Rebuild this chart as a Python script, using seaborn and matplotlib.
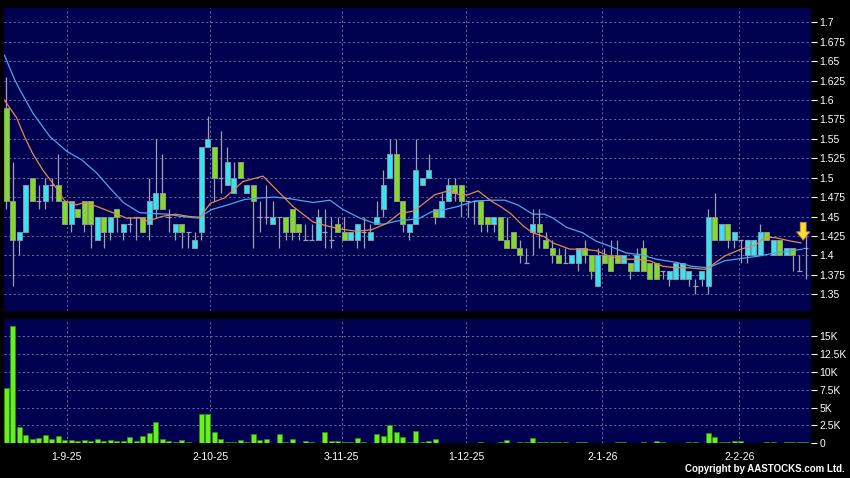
import numpy as np
import pandas as pd
import matplotlib
matplotlib.use("Agg")
import matplotlib.pyplot as plt
import seaborn as sns

# daily candles, 19-8-25 .. mid-Feb-26
opens = [1.59, 1.47, 1.42, 1.43, 1.50, 1.47, 1.47, 1.49, 1.49, 1.47,
         1.44, 1.46, 1.47, 1.47, 1.42, 1.45, 1.43, 1.46, 1.43, 1.44,
         1.45, 1.45, 1.44, 1.46, 1.48, 1.45, 1.43, 1.44, 1.43, 1.41,
         1.43, 1.54, 1.54, 1.50, 1.49, 1.48, 1.52, 1.48, 1.49, 1.45,
         1.45, 1.44, 1.45, 1.45, 1.46, 1.44, 1.42, 1.42, 1.42, 1.43,
         1.42, 1.44, 1.43, 1.42, 1.42, 1.43, 1.42, 1.44, 1.46, 1.50,
         1.53, 1.47, 1.43, 1.44, 1.49, 1.50, 1.46, 1.45, 1.47, 1.49,
         1.49, 1.47, 1.47, 1.47, 1.45, 1.44, 1.45, 1.42, 1.43, 1.41,
         1.39, 1.43, 1.44, 1.42, 1.41, 1.40, 1.39, 1.39, 1.39, 1.41,
         1.40, 1.36, 1.40, 1.40, 1.40, 1.39, 1.39, 1.38, 1.41, 1.39,
         1.39, 1.38, 1.37, 1.37, 1.37, 1.37, 1.36, 1.37, 1.36, 1.45,
         1.42, 1.44, 1.42, 1.42, 1.40, 1.40, 1.40, 1.43, 1.40, 1.42,
         1.40, 1.41, 1.38, 1.41]
highs = [1.63, 1.52, 1.43, 1.49, 1.50, 1.49, 1.50, 1.50, 1.53, 1.47,
         1.47, 1.46, 1.47, 1.47, 1.45, 1.45, 1.45, 1.46, 1.44, 1.45,
         1.45, 1.45, 1.50, 1.55, 1.53, 1.46, 1.44, 1.44, 1.43, 1.43,
         1.54, 1.58, 1.54, 1.56, 1.54, 1.52, 1.52, 1.49, 1.49, 1.47,
         1.49, 1.47, 1.45, 1.45, 1.46, 1.44, 1.44, 1.44, 1.46, 1.46,
         1.45, 1.45, 1.45, 1.43, 1.44, 1.45, 1.44, 1.47, 1.51, 1.55,
         1.55, 1.47, 1.44, 1.55, 1.50, 1.53, 1.46, 1.48, 1.50, 1.50,
         1.49, 1.47, 1.47, 1.47, 1.45, 1.45, 1.45, 1.45, 1.43, 1.42,
         1.41, 1.46, 1.46, 1.43, 1.42, 1.41, 1.41, 1.40, 1.41, 1.42,
         1.40, 1.41, 1.41, 1.42, 1.42, 1.40, 1.39, 1.41, 1.42, 1.39,
         1.39, 1.38, 1.38, 1.39, 1.39, 1.38, 1.37, 1.38, 1.46, 1.48,
         1.44, 1.44, 1.43, 1.42, 1.42, 1.42, 1.44, 1.43, 1.42, 1.42,
         1.41, 1.41, 1.40, 1.425]
lows = [1.46, 1.36, 1.40, 1.43, 1.47, 1.46, 1.46, 1.47, 1.47, 1.44,
        1.43, 1.45, 1.43, 1.41, 1.42, 1.41, 1.42, 1.43, 1.42, 1.43,
        1.42, 1.43, 1.42, 1.45, 1.46, 1.43, 1.42, 1.41, 1.41, 1.41,
        1.42, 1.54, 1.47, 1.48, 1.49, 1.48, 1.50, 1.48, 1.41, 1.43,
        1.44, 1.44, 1.41, 1.42, 1.42, 1.42, 1.42, 1.42, 1.42, 1.41,
        1.41, 1.43, 1.42, 1.42, 1.41, 1.41, 1.42, 1.44, 1.45, 1.50,
        1.47, 1.43, 1.42, 1.44, 1.49, 1.50, 1.44, 1.45, 1.47, 1.47,
        1.45, 1.45, 1.44, 1.43, 1.43, 1.43, 1.42, 1.41, 1.41, 1.39,
        1.39, 1.40, 1.41, 1.41, 1.39, 1.39, 1.39, 1.39, 1.38, 1.39,
        1.37, 1.36, 1.39, 1.38, 1.39, 1.39, 1.37, 1.38, 1.38, 1.37,
        1.37, 1.37, 1.36, 1.37, 1.37, 1.36, 1.35, 1.36, 1.35, 1.42,
        1.42, 1.41, 1.41, 1.39, 1.39, 1.40, 1.40, 1.42, 1.40, 1.40,
        1.40, 1.38, 1.38, 1.37]
closes = [1.47, 1.42, 1.43, 1.49, 1.47, 1.47, 1.49, 1.49, 1.47, 1.44,
          1.47, 1.45, 1.44, 1.44, 1.45, 1.43, 1.45, 1.45, 1.44, 1.44,
          1.45, 1.43, 1.47, 1.48, 1.46, 1.45, 1.44, 1.43, 1.43, 1.42,
          1.54, 1.55, 1.50, 1.50, 1.52, 1.50, 1.50, 1.49, 1.47, 1.45,
          1.45, 1.45, 1.45, 1.43, 1.43, 1.43, 1.42, 1.42, 1.45, 1.43,
          1.42, 1.43, 1.42, 1.43, 1.44, 1.43, 1.43, 1.45, 1.49, 1.53,
          1.47, 1.44, 1.44, 1.51, 1.50, 1.51, 1.45, 1.47, 1.49, 1.48,
          1.47, 1.47, 1.47, 1.44, 1.44, 1.45, 1.42, 1.41, 1.41, 1.40,
          1.39, 1.44, 1.43, 1.41, 1.40, 1.39, 1.39, 1.40, 1.41, 1.40,
          1.38, 1.40, 1.39, 1.38, 1.39, 1.40, 1.38, 1.40, 1.38, 1.37,
          1.37, 1.38, 1.38, 1.39, 1.39, 1.38, 1.36, 1.38, 1.45, 1.42,
          1.44, 1.42, 1.43, 1.42, 1.42, 1.42, 1.43, 1.42, 1.42, 1.40,
          1.41, 1.40, 1.38, 1.41]
volumes = [7800, 16400, 2330, 1160, 650, 750, 1120, 560, 1020, 510,
           470, 280, 470, 330, 560, 370, 470, 280, 330, 840,
           280, 1020, 1400, 2980, 600, 330, 140, 470, 190, 90,
           4140, 4050, 1580, 650, 230, 190, 470, 190, 1300, 470,
           560, 50, 1300, 190, 600, 50, 330, 140, 90, 1580,
           280, 330, 140, 190, 750, 140, 50, 1260, 980, 2560,
           1580, 880, 190, 1720, 190, 330, 620, 80, 60, 80,
           60, 50, 60, 150, 100, 60, 190, 430, 60, 240,
           240, 770, 120, 150, 240, 190, 190, 60, 150, 190,
           50, 60, 100, 50, 240, 190, 50, 60, 190, 50,
           290, 240, 50, 100, 50, 190, 150, 60, 1440, 820,
           240, 240, 380, 380, 100, 100, 50, 240, 150, 60,
           150, 190, 150, 190]

# moving averages (x = candle index)
ma_fast_x = [-0.3, 1.6, 2.8, 4.0, 5.6, 7.5, 9.0, 10.8, 12.0, 13.9, 17.0, 18.5, 20.5,
             21.8, 23.9, 26.0, 28.2, 29.8, 31.4, 33.6, 36.4, 39.5, 41.5, 44.1, 47.2,
             49.3, 51.3, 53.9, 56.2, 58.5, 60.5, 62.7, 64.4, 65.9, 68.0, 69.8, 71.0,
             72.6, 74.6, 76.2, 77.7, 79.5, 81.0, 82.8, 84.1, 86.7, 88.7, 90.8, 92.8,
             94.9, 97.0, 99.0, 101.0, 103.1, 105.0, 107.5, 108.5, 110.5, 113.0, 115.2,
             116.7, 118.2, 120.3, 122.3]
ma_fast = [1.600, 1.577, 1.553, 1.532, 1.510, 1.489, 1.470, 1.465, 1.468, 1.463, 1.453,
           1.448, 1.448, 1.444, 1.450, 1.453, 1.450, 1.449, 1.467, 1.474, 1.495, 1.502,
           1.485, 1.463, 1.443, 1.438, 1.434, 1.431, 1.433, 1.441, 1.454, 1.457, 1.468,
           1.478, 1.483, 1.478, 1.478, 1.483, 1.470, 1.462, 1.453, 1.438, 1.429, 1.424,
           1.416, 1.408, 1.408, 1.406, 1.399, 1.395, 1.395, 1.393, 1.386, 1.384, 1.384,
           1.382, 1.387, 1.399, 1.408, 1.413, 1.423, 1.423, 1.419, 1.416]
ma_slow_x = [-0.3, 1.3, 2.1, 4.1, 6.7, 9.3, 11.6, 13.9, 15.9, 18.0, 20.5, 22.3, 24.9,
             26.9, 29.5, 31.6, 34.1, 36.7, 39.3, 41.3, 43.6, 47.2, 49.8, 51.8, 54.4,
             56.4, 58.0, 60.0, 62.1, 63.4, 65.4, 67.5, 69.5, 72.1, 74.6, 76.7, 78.7,
             81.0, 82.8, 84.1, 86.2, 88.7, 90.8, 92.8, 95.4, 97.5, 100.0, 103.1, 105.4,
             108.0, 110.5, 113.1, 115.7, 118.2, 120.8, 122.5]
ma_slow = [1.658, 1.626, 1.613, 1.583, 1.553, 1.534, 1.523, 1.506, 1.487, 1.468, 1.455,
           1.454, 1.453, 1.450, 1.448, 1.459, 1.465, 1.472, 1.474, 1.475, 1.473, 1.468,
           1.471, 1.459, 1.448, 1.442, 1.440, 1.444, 1.446, 1.447, 1.456, 1.459, 1.463,
           1.470, 1.471, 1.471, 1.465, 1.453, 1.453, 1.448, 1.436, 1.429, 1.418, 1.412,
           1.403, 1.401, 1.395, 1.391, 1.386, 1.384, 1.393, 1.396, 1.399, 1.403, 1.406,
           1.408]

date_pos = [9.3, 31.4, 51.6, 70.7, 91.7, 112.8]
date_labels = ["1-9-25", "2-10-25", "3-11-25", "1-12-25", "2-1-26", "2-2-26"]
price_ticks = [1.35, 1.375, 1.4, 1.425, 1.45, 1.475, 1.5, 1.525, 1.55, 1.575,
               1.6, 1.625, 1.65, 1.675, 1.7]
vol_ticks = [0, 2500, 5000, 7500, 10000, 12500, 15000]
vol_labels = ["0", "2.5K", "5K", "7.5K", "10K", "12.5K", "15K"]

df = pd.DataFrame({"open": opens, "high": highs, "low": lows,
                   "close": closes, "vol": volumes})
df["idx"] = np.arange(len(df))

sns.set_style("dark")
plt.rcParams["font.family"] = ["Liberation Sans", "DejaVu Sans"]

NAVY = "#000050"
GRID = "#7c7ca4"
CYAN = "#38e2f0"
LIME = "#80dc26"
WICK = "#a0a0ac"

fig = plt.figure(figsize=(8.5, 4.78), dpi=100, facecolor="black")
ax = fig.add_axes([0.0047, 0.3494, 0.9494, 0.6339])
axv = fig.add_axes([0.0047, 0.0726, 0.9494, 0.2600])

for a in (ax, axv):
    a.set_facecolor(NAVY)
    for s in a.spines.values():
        s.set_visible(False)
    a.set_axisbelow(True)
    a.grid(True, color=GRID, linestyle=(0, (2.5, 3)), linewidth=0.6)
    a.yaxis.tick_right()
    a.tick_params(axis="y", colors="white", labelcolor="white", length=4,
                  width=0.8, labelsize=7.5, pad=2)

# candles
up = df[df["close"] > df["open"]]
down = df[df["close"] < df["open"]]
flat = df[df["close"] == df["open"]]
ax.vlines(df["idx"], df["low"], df["high"], color=WICK, linewidth=0.9, zorder=2)
ax.bar(up["idx"], up["close"] - up["open"], bottom=up["open"], width=0.74,
       color=CYAN, edgecolor="#7d9aa4", linewidth=0.7, zorder=3)
ax.bar(down["idx"], down["open"] - down["close"], bottom=down["close"], width=0.74,
       color=LIME, edgecolor="#8a9a78", linewidth=0.7, zorder=3)
ax.hlines(flat["close"], flat["idx"] - 0.37, flat["idx"] + 0.37, color=WICK,
          linewidth=0.9, zorder=3)

sns.lineplot(x=ma_slow_x, y=ma_slow, color="#4aa8ec", linewidth=0.9, ax=ax, zorder=4)
sns.lineplot(x=ma_fast_x, y=ma_fast, color="#e8884a", linewidth=0.9, ax=ax, zorder=5)

ax.annotate("", xy=(122.6, 1.416), xytext=(122.6, 1.446),
            arrowprops=dict(arrowstyle="simple,head_length=0.6,head_width=0.95,tail_width=0.42",
                            fc="#ffd83a", ec="#c99a1c", lw=0.6), zorder=6)

ax.set_xlim(-0.35, 123.8)
ax.set_ylim(1.3284, 1.7184)
ax.set_yticks(price_ticks)
ax.set_yticklabels([f"{t:g}" for t in price_ticks])
ax.set_xticks(date_pos)
ax.tick_params(axis="x", length=0, labelbottom=False)
ax.set_xlabel("")
ax.set_ylabel("")

# volume
sns.barplot(data=df, x="idx", y="vol", native_scale=True, color="#66f020",
            saturation=1, edgecolor="#2f8c12", linewidth=0.5, width=0.8,
            errorbar=None, ax=axv)
axv.set_xlim(-0.35, 123.8)
axv.set_ylim(0, 17380)
axv.set_yticks(vol_ticks)
axv.set_yticklabels(vol_labels)
axv.set_xticks(date_pos)
axv.set_xticklabels(date_labels)
axv.tick_params(axis="x", colors="white", labelcolor="white", length=3,
                width=0.8, labelsize=7.5, pad=3)
axv.set_xlabel("")
axv.set_ylabel("")

fig.text(0.994, 0.008, "Copyright by AASTOCKS.com Ltd.", color="white",
         fontsize=7, fontweight="bold", ha="right", va="bottom")

fig.savefig("out.png", dpi=100, facecolor="black")
